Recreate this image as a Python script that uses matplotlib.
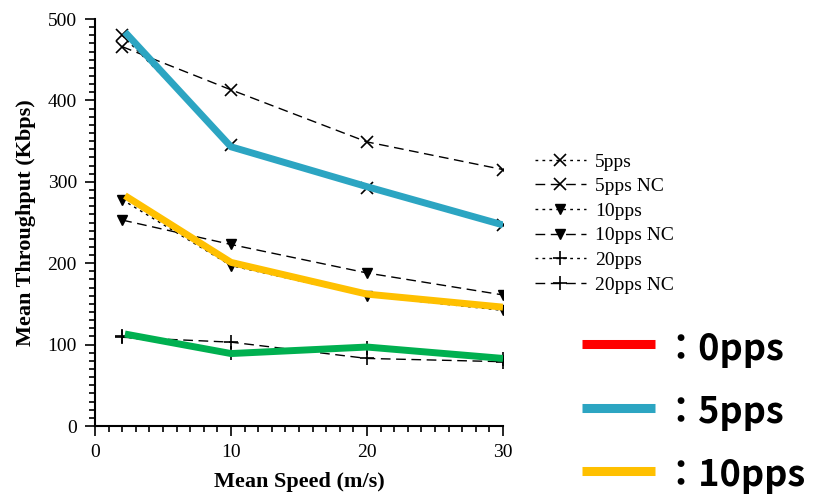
import matplotlib.pyplot as plt
from matplotlib.ticker import MultipleLocator
from matplotlib.lines import Line2D

# mean speed (m/s)
speed = [2, 10, 20, 30]

# throughput (Kbps), black reference curves
tp_5pps = [480, 345, 292, 247]
tp_5pps_nc = [466, 413, 349, 315]
tp_10pps = [278, 197, 160, 142]
tp_10pps_nc = [253, 223, 188, 161]
tp_20pps = [110, 90, 96, 82]
tp_20pps_nc = [109, 103, 83, 79]

# coloured overlay curves
speed_col = [2.2, 10, 20, 30]
col_5pps = [484, 343, 294, 247]
col_10pps = [283, 201, 162, 146]
col_20pps = [113, 89, 97, 83]

big_labels = ['\uff1a0pps', '\uff1a5pps', '\uff1a10pps']
big_colors = ['#ff0000', '#2ca5c2', '#ffc000']

plt.rcParams['font.family'] = ['Liberation Serif', 'DejaVu Serif']

fig = plt.figure(figsize=(8.17, 4.94), dpi=100)
ax = fig.add_axes([95/817, 1 - 426/494, 408/817, 407/494])

dot = (0, (2, 3))
dash = (0, (7, 4))
ax.plot(speed, tp_5pps, color='k', lw=1, ls=dot, marker='x', ms=9, mew=1.2, label='5pps')
ax.plot(speed, tp_5pps_nc, color='k', lw=1, ls=dash, marker='x', ms=9, mew=1.2, label='5pps NC')
ax.plot(speed, tp_10pps, color='k', lw=1, ls=dot, marker='v', ms=7, label='10pps')
ax.plot(speed, tp_10pps_nc, color='k', lw=1, ls=dash, marker='v', ms=7, label='10pps NC')
ax.plot(speed, tp_20pps, color='k', lw=1, ls=dot, marker='+', ms=10, mew=1.2, label='20pps')
ax.plot(speed, tp_20pps_nc, color='k', lw=1, ls=dash, marker='+', ms=10, mew=1.2, label='20pps NC')

ax.plot(speed_col, col_5pps, color='#2ca5c2', lw=5, solid_capstyle='butt')
ax.plot(speed_col, col_10pps, color='#ffc000', lw=5, solid_capstyle='butt')
ax.plot(speed_col, col_20pps, color='#00b050', lw=5, solid_capstyle='butt')

ax.set_xlim(0, 30)
ax.set_ylim(0, 500)
ax.xaxis.set_major_locator(MultipleLocator(10))
ax.xaxis.set_minor_locator(MultipleLocator(1))
ax.yaxis.set_major_locator(MultipleLocator(100))
ax.yaxis.set_minor_locator(MultipleLocator(10))
ax.tick_params(which='major', direction='out', length=7, width=1.2, labelsize=14,
               colors='k', pad=6)
ax.tick_params(which='minor', direction='out', length=4, width=1.2)
ax.spines['top'].set_visible(False)
ax.spines['right'].set_visible(False)
ax.spines['left'].set_linewidth(1.5)
ax.spines['bottom'].set_linewidth(1.5)

ax.set_xlabel('Mean Speed (m/s)', fontsize=16, fontweight='bold', labelpad=8)
ax.set_ylabel('Mean Throughput (Kbps)', fontsize=16, fontweight='bold', labelpad=8)

ax.legend(loc='upper left', bbox_to_anchor=(535/817, 1 - 153/494), bbox_transform=fig.transFigure,
          frameon=False, fontsize=14, numpoints=1, handlelength=2.6, handletextpad=0.5,
          labelspacing=0.36, borderaxespad=0, borderpad=0)

# big coloured key on the right
for i, (lab, col) in enumerate(zip(big_labels, big_colors)):
    yy = 1 - (344 + 63.5 * i) / 494
    fig.add_artist(Line2D([582/817, 655/817], [yy, yy], transform=fig.transFigure,
                          color=col, lw=6.5, solid_capstyle='butt'))
    fig.text(662/817, yy - 5/494, lab, fontsize=26, fontweight='bold', va='center', ha='left',
             family=['Noto Sans CJK JP', 'DejaVu Sans'])

fig.savefig('out.png', dpi=100)
